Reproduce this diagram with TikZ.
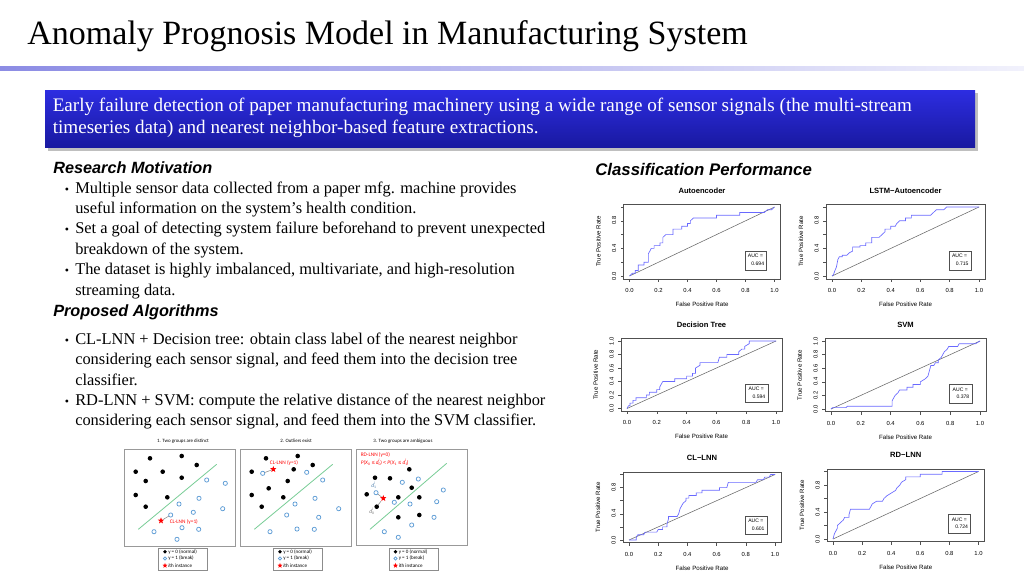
\documentclass[tikz,border=0pt]{standalone}
\usepackage{fontspec}
\setmainfont{Liberation Serif}
\newfontfamily\arialfont{Liberation Sans}
\newfontfamily\calibrifont{Carlito}
\usetikzlibrary{shapes.geometric}

\definecolor{rulebar}{RGB}{140,140,228}
\definecolor{bannertop}{RGB}{45,45,225}
\definecolor{bannerbot}{RGB}{25,25,160}
\definecolor{ptblue}{RGB}{91,155,213}
\definecolor{sepgreen}{RGB}{120,205,150}
\definecolor{rocblue}{RGB}{105,105,255}
\definecolor{framegray}{RGB}{80,80,80}

\newcommand\subsup[3]{\textit{#1}\rlap{\textsubscript{#2}}\textsuperscript{\textit{#3}}}

\tikzset{
  titletext/.style={font=\fontsize{25.5}{30}\selectfont, anchor=base west, inner sep=0pt},
  bannertext/.style={font=\fontsize{14.35}{16}\selectfont, text=white, anchor=base west, inner sep=0pt},
  heading/.style={font=\arialfont\bfseries\itshape\fontsize{12.2}{14}\selectfont, anchor=base west, inner sep=0pt},
  bodyline/.style={font=\fontsize{12.3}{14}\selectfont, anchor=base west, inner sep=0pt},
  bulletmark/.style={font=\fontsize{9}{10}\selectfont, anchor=base west, inner sep=0pt},
  % ROC panels
  rocframe/.style={draw=framegray, line width=0.4pt},
  rocdiag/.style={draw=black!60, line width=0.4pt},
  roccurve/.style={draw=rocblue, line width=0.5pt},
  roctitle/.style={font=\arialfont\bfseries\fontsize{5.7}{7}\selectfont, inner sep=0pt, anchor=base},
  axislab/.style={font=\arialfont\fontsize{4.6}{5.5}\selectfont, inner sep=0pt, anchor=base},
  ticklab/.style={font=\arialfont\fontsize{4.4}{5}\selectfont, inner sep=0pt, anchor=base},
  auctext/.style={font=\arialfont\fontsize{3.8}{4.5}\selectfont, inner sep=0pt},
  % scatter sketches
  panelframe/.style={draw=black!40, line width=0.6pt},
  keyframe/.style={draw=black!45, line width=0.5pt},
  normalpt/.style={fill=black},
  breakpt/.style={draw=ptblue, line width=0.55pt},
  starpt/.style={star, star points=5, star point ratio=2.4, fill=red, inner sep=0pt, minimum size=5pt},
  sepline/.style={draw=sepgreen, line width=0.6pt},
  nnlink/.style={draw=black!45, line width=0.4pt},
  sketchtitle/.style={font=\calibrifont\fontsize{3.7}{4}\selectfont, inner sep=0pt},
  keytext/.style={font=\calibrifont\fontsize{3.8}{4}\selectfont, anchor=west, inner sep=0pt},
  nnlabel/.style={font=\calibrifont\fontsize{4}{4.5}\selectfont, text=red, inner sep=0pt}
}

% #1,#2 origin (px) of data (0,0), #3,#4 px for 1.0, #5 title, #6 auc, #7 curve, #8 y labels, #9 name
\newcommand\rocpanel[9]{%
  \pgfmathsetlengthmacro\rocw{#3*0.75pt}%
  \pgfmathsetlengthmacro\roch{#4*0.75pt}%
  \begin{scope}[shift={(#1,#2)}, x=\rocw, y=\roch]
    \draw[rocframe] (-0.04,-0.04) rectangle (1.04,1.04);
    \draw[rocdiag] (0,0) -- (1,1);
    \draw[roccurve] plot coordinates {#7};
    \foreach \t/\lab [count=\k] in {0/0.0,0.2/0.2,0.4/0.4,0.6/0.6,0.8/0.8,1/1.0} {
      \draw[rocframe] (\t,-0.04) -- +(0,-2.2pt);
      \draw[rocframe] (-0.04,\t) -- +(-2.2pt,0);
      \node[ticklab, yshift=-10.2pt] (#9x\k) at (\t,-0.04) {\lab};
    }
    \foreach \t/\lab [count=\k] in {#8} {
      \node[ticklab, xshift=-5.6pt, rotate=90] (#9y\k) at (-0.04,\t) {\lab};
    }
    \node[roctitle, yshift=8.3pt] (#9t) at (0.5,1.04) {#5};
    \node[axislab, yshift=-20.8pt] (#9xl) at (0.5,-0.04) {False Positive Rate};
    \node[axislab, xshift=-17.3pt, rotate=90] (#9yl) at (-0.04,0.5) {True Positive Rate};
    \draw[rocframe] (0.795,0.09) rectangle (0.945,0.365);
    \node[auctext, anchor=west] (#9a) at (0.815,0.29) {AUC =};
    \node[auctext, anchor=east] (#9v) at (0.93,0.175) {#6};
  \end{scope}}

% #1,#2 top left of the key, #3 name
\newcommand\scatterkey[3]{%
  \draw[keyframe] (#1,#2) rectangle ++(49,22);
  \fill[normalpt] (#1+6.5,#2+3.8) circle[radius=1.9];
  \node[keytext] (#3a) at (#1+9.5,#2+3.8) {y = 0 (normal)};
  \draw[breakpt] (#1+6.5,#2+10.5) circle[radius=1.7];
  \node[keytext] (#3b) at (#1+9.5,#2+10.5) {y = 1 (break)};
  \node[starpt, minimum size=4pt] (#3s) at (#1+6.5,#2+17.6) {};
  \node[keytext] (#3c) at (#1+9.5,#2+17.6) {\textit{i}th instance};}

\begin{document}
\begin{tikzpicture}[x=0.75pt,y=-0.75pt]
  \useasboundingbox[fill=white] (0,0) rectangle (1024,576);

  % title and rule
  \node[titletext] (title) at (27,44) {Anomaly Prognosis Model in Manufacturing System};
  \shade[left color=rulebar, right color=rulebar!12] (0,66.3) rectangle (1024,70.3);

  % banner
  \fill[black!25] (47.5,93) rectangle (977.5,150.5);
  \shade[top color=bannertop, bottom color=bannerbot] (45,90) rectangle (975,147.5);
  \node[bannertext] (ban1) at (52.5,111.5) {Early failure detection of paper manufacturing machinery using a wide range of sensor signals (the multi-stream};
  \node[bannertext] (ban2) at (52.5,133.5) {timeseries data) and nearest neighbor-based feature extractions.};

  % research motivation
  \node[heading] (motiv) at (53,173) {Research Motivation};
  \node[bulletmark] (b1) at (64.5,193) {\textbullet};
  \node[bodyline] (m1) at (75,193) {Multiple sensor data collected from a paper mfg. machine provides};
  \node[bodyline] (m2) at (75,213) {useful information on the system’s health condition.};
  \node[bulletmark] (b2) at (64.5,233) {\textbullet};
  \node[bodyline] (m3) at (75,233) {Set a goal of detecting system failure beforehand to prevent unexpected};
  \node[bodyline] (m4) at (75,254) {breakdown of the system.};
  \node[bulletmark] (b3) at (64.5,274.5) {\textbullet};
  \node[bodyline] (m5) at (75,274.5) {The dataset is highly imbalanced, multivariate, and high-resolution};
  \node[bodyline] (m6) at (75,295.5) {streaming data.};

  % proposed algorithms
  \node[heading] (algo) at (53,316.5) {Proposed Algorithms};
  \node[bulletmark] (b4) at (64.5,344) {\textbullet};
  \node[bodyline] (a1) at (75,344) {CL-LNN + Decision tree: obtain class label of the nearest neighbor};
  \node[bodyline] (a2) at (75,364) {considering each sensor signal, and feed them into the decision tree};
  \node[bodyline] (a3) at (75,385.5) {classifier.};
  \node[bulletmark] (b5) at (64.5,405.5) {\textbullet};
  \node[bodyline] (a4) at (75,405.5) {RD-LNN + SVM: compute the relative distance of the nearest neighbor};
  \node[bodyline] (a5) at (75,425.5) {considering each sensor signal, and feed them into the SVM classifier.};

  % sketch 1: two groups are distinct
  \node[sketchtitle] (s1t) at (183,441) {1. Two groups are distinct};
  \draw[panelframe] (124,449.5) rectangle (235.5,546);
  \draw[sepline] (138.3,529.3) -- (216.7,464.3);
  \foreach \p in {(150,458.3),(181.7,456),(196.7,465),(135.7,471.7),(162.7,471.7),(145.7,481),(181.7,477.7),(135.7,495),(167.3,497.3),(145.7,506.7)}
    \fill[normalpt] \p circle[radius=2.3];
  \foreach \p in {(206.7,480),(225.3,483.3),(199,498.3),(179,504),(222.7,508.7),(193.3,512.3),(170.7,515),(182,527.7),(198.7,529.3),(154,531.7),(177,539.3)}
    \draw[breakpt] \p circle[radius=2.1];
  \coordinate (n1) at (170.7,515);
  \node[starpt] (s1) at (161,520.7) {};
  \draw[nnlink, shorten >=1.6pt] (s1) -- (n1);
  \node[nnlabel, anchor=west] (l1) at (169.5,521.5) {CL-LNN (y=1)};
  \scatterkey{158.5}{548}{k1}

  % sketch 2: outliers exist
  \node[sketchtitle] (s2t) at (296,441) {2. Outliers exist};
  \draw[panelframe] (240,449.5) rectangle (351,546);
  \draw[sepline] (254.3,529.3) -- (332.7,464.3);
  \foreach \p in {(266,458.3),(297.7,456),(312.7,465),(251.7,471.7),(293.7,469.3),(287.7,481),(268.7,488.3),(251.7,495),(283.3,497.3),(261.7,506.7)}
    \fill[normalpt] \p circle[radius=2.3];
  \foreach \p in {(262.7,473.3),(306.7,472.3),(322.7,480),(315,498.3),(295,504),(338.7,508.7),(286.7,515),(318.7,517.3),(270,531.7),(297,529),(314.3,529.3)}
    \draw[breakpt] \p circle[radius=2.1];
  \coordinate (n2) at (262.7,473.3);
  \node[starpt] (s2) at (273.3,469.3) {};
  \draw[nnlink, shorten >=1.6pt] (s2) -- (n2);
  \node[nnlabel] (l2) at (284,463.2) {CL-LNN (y=1)};
  \scatterkey{273.5}{548}{k2}

  % sketch 3: two groups are ambiguous
  \node[sketchtitle] (s3t) at (403,441) {3. Two groups are ambiguous};
  \draw[panelframe] (356,449.5) rectangle (467,545.5);
  \draw[sepline] (370,529.3) -- (446.7,463.3);
  \foreach \p in {(409.3,469.3),(375,477.7),(390,478.3),(411.7,487.7),(366.7,494.3),(398.3,497.3),(419.3,497.3),(376.7,506.7),(398.3,517.3),(419.3,515)}
    \fill[normalpt] \p circle[radius=2.3];
  \foreach \p in {(402.3,482.3),(418.3,479),(443.3,490),(376,492.7),(394.3,502.3),(410,504),(436.7,501.7),(434,517.3),(411.7,525),(384.3,531.7),(398.3,537.3)}
    \draw[breakpt] \p circle[radius=2.1];
  \coordinate (n3a) at (376,492.7);
  \coordinate (n3b) at (376.7,506.7);
  \node[starpt] (s3) at (383.3,498.3) {};
  \draw[nnlink, shorten >=1.6pt] (s3) -- (n3a);
  \draw[nnlink, shorten >=1.8pt] (s3) -- (n3b);
  \node[nnlabel, anchor=west] (l3) at (360.5,455) {RD-LNN (y=0)};
  \node[nnlabel, anchor=west] (l3f) at (360.5,462.3)
    {\textit{P}(\textit{X}\textsubscript{0} {\arialfont ≤} \subsup{d}{0}{i}) {\arialfont <} \textit{P}(\textit{X}\textsubscript{1} {\arialfont ≤} \subsup{d}{1}{i})};
  \node[nnlabel, text=ptblue!80!black] (d1) at (373.5,485.5) {\subsup{d}{1}{i}};
  \node[nnlabel, text=black!55] (d0) at (371.5,511.5) {\subsup{d}{0}{i}};
  \scatterkey{389}{548}{k3}

  % classification performance
  \node[heading, font=\arialfont\bfseries\itshape\fontsize{12.6}{14}\selectfont] (perf) at (595,175) {Classification Performance};

  \rocpanel{629.5}{276}{145}{69}{Autoencoder}{0.694}%
    {(0,0) (0.02,0.04) (0.04,0.04) (0.04,0.08) (0.06,0.08) (0.06,0.16) (0.1,0.16) (0.1,0.2) (0.13,0.2) (0.13,0.32) (0.14,0.36) (0.15,0.4) (0.17,0.4) (0.17,0.44) (0.21,0.44) (0.21,0.48) (0.23,0.48) (0.23,0.56) (0.25,0.6) (0.3,0.6) (0.3,0.68) (0.36,0.68) (0.36,0.72) (0.4,0.72) (0.4,0.76) (0.42,0.76) (0.42,0.8) (0.44,0.84) (0.6,0.84) (0.6,0.88) (0.76,0.88) (0.76,0.92) (0.93,0.92) (0.95,0.96) (0.98,0.96) (1,1)}%
    {0/0.0,0.4/0.4,0.8/0.8}{ae}
  \rocpanel{832}{276}{147}{69}{LSTM−Autoencoder}{0.715}%
    {(0,0) (0.01,0.02) (0.02,0.08) (0.03,0.13) (0.04,0.24) (0.05,0.28) (0.07,0.28) (0.07,0.3) (0.1,0.3) (0.12,0.34) (0.14,0.36) (0.14,0.42) (0.19,0.42) (0.19,0.44) (0.23,0.44) (0.23,0.48) (0.27,0.48) (0.27,0.56) (0.32,0.56) (0.34,0.6) (0.36,0.64) (0.36,0.68) (0.4,0.68) (0.4,0.72) (0.43,0.72) (0.44,0.76) (0.46,0.8) (0.5,0.8) (0.5,0.84) (0.54,0.84) (0.54,0.88) (0.67,0.88) (0.69,0.92) (0.71,0.96) (0.76,0.96) (0.78,1) (1,1)}%
    {0/0.0,0.4/0.4,0.8/0.8}{lstm}
  \rocpanel{627}{408.5}{149}{67.5}{Decision Tree}{0.594}%
    {(0,0) (0.01,0.04) (0.02,0.04) (0.02,0.08) (0.04,0.08) (0.04,0.12) (0.06,0.12) (0.06,0.16) (0.13,0.16) (0.13,0.2) (0.15,0.2) (0.15,0.24) (0.2,0.24) (0.2,0.28) (0.22,0.28) (0.22,0.32) (0.23,0.36) (0.24,0.4) (0.32,0.4) (0.32,0.44) (0.4,0.44) (0.4,0.48) (0.44,0.48) (0.44,0.52) (0.46,0.52) (0.46,0.6) (0.49,0.64) (0.49,0.68) (0.61,0.68) (0.62,0.76) (0.67,0.76) (0.67,0.8) (0.75,0.8) (0.75,0.84) (0.77,0.88) (0.79,0.88) (0.79,0.92) (0.82,0.96) (0.82,1) (1,1)}%
    {0/0.0,0.2/0.2,0.4/0.4,0.6/0.6,0.8/0.8,1/1.0}{dt}
  \rocpanel{831}{409}{149}{68}{SVM}{0.378}%
    {(0,0) (0.01,0.02) (0.1,0.02) (0.11,0.04) (0.41,0.04) (0.41,0.12) (0.43,0.2) (0.45,0.24) (0.46,0.28) (0.51,0.28) (0.51,0.32) (0.55,0.32) (0.55,0.36) (0.6,0.36) (0.6,0.4) (0.63,0.44) (0.65,0.48) (0.66,0.56) (0.67,0.64) (0.69,0.64) (0.7,0.68) (0.72,0.68) (0.72,0.72) (0.74,0.76) (0.76,0.84) (0.78,0.88) (0.79,0.92) (0.85,0.92) (0.86,0.96) (0.97,0.96) (1,1)}%
    {0/0.0,0.2/0.2,0.4/0.4,0.6/0.6,0.8/0.8,1/1.0}{svm}
  \rocpanel{629}{540}{146}{65.5}{CL−LNN}{0.601}%
    {(0,0) (0.05,0) (0.05,0.04) (0.06,0.08) (0.1,0.08) (0.11,0.12) (0.19,0.12) (0.2,0.16) (0.23,0.16) (0.23,0.2) (0.26,0.2) (0.26,0.24) (0.27,0.32) (0.27,0.36) (0.33,0.36) (0.34,0.4) (0.35,0.48) (0.36,0.52) (0.37,0.56) (0.39,0.6) (0.39,0.64) (0.41,0.64) (0.41,0.68) (0.46,0.68) (0.46,0.72) (0.5,0.72) (0.5,0.76) (0.62,0.76) (0.62,0.8) (0.67,0.8) (0.68,0.88) (0.87,0.88) (0.88,0.92) (0.92,0.92) (0.93,0.96) (0.96,0.96) (0.97,1) (1,1)}%
    {0/0.0,0.4/0.4,0.8/0.8}{cl}
  \rocpanel{833}{539}{145.5}{67.5}{RD−LNN}{0.724}%
    {(0,0) (0.01,0.08) (0.02,0.12) (0.03,0.16) (0.03,0.2) (0.05,0.24) (0.07,0.28) (0.08,0.32) (0.11,0.32) (0.11,0.36) (0.12,0.44) (0.25,0.44) (0.26,0.48) (0.27,0.52) (0.3,0.56) (0.34,0.56) (0.35,0.6) (0.37,0.64) (0.4,0.68) (0.43,0.72) (0.44,0.76) (0.46,0.8) (0.47,0.84) (0.5,0.88) (0.5,0.92) (0.6,0.92) (0.6,0.96) (0.75,0.96) (0.75,1) (1,1)}%
    {0/0.0,0.4/0.4,0.8/0.8}{rd}
\end{tikzpicture}
\end{document}
